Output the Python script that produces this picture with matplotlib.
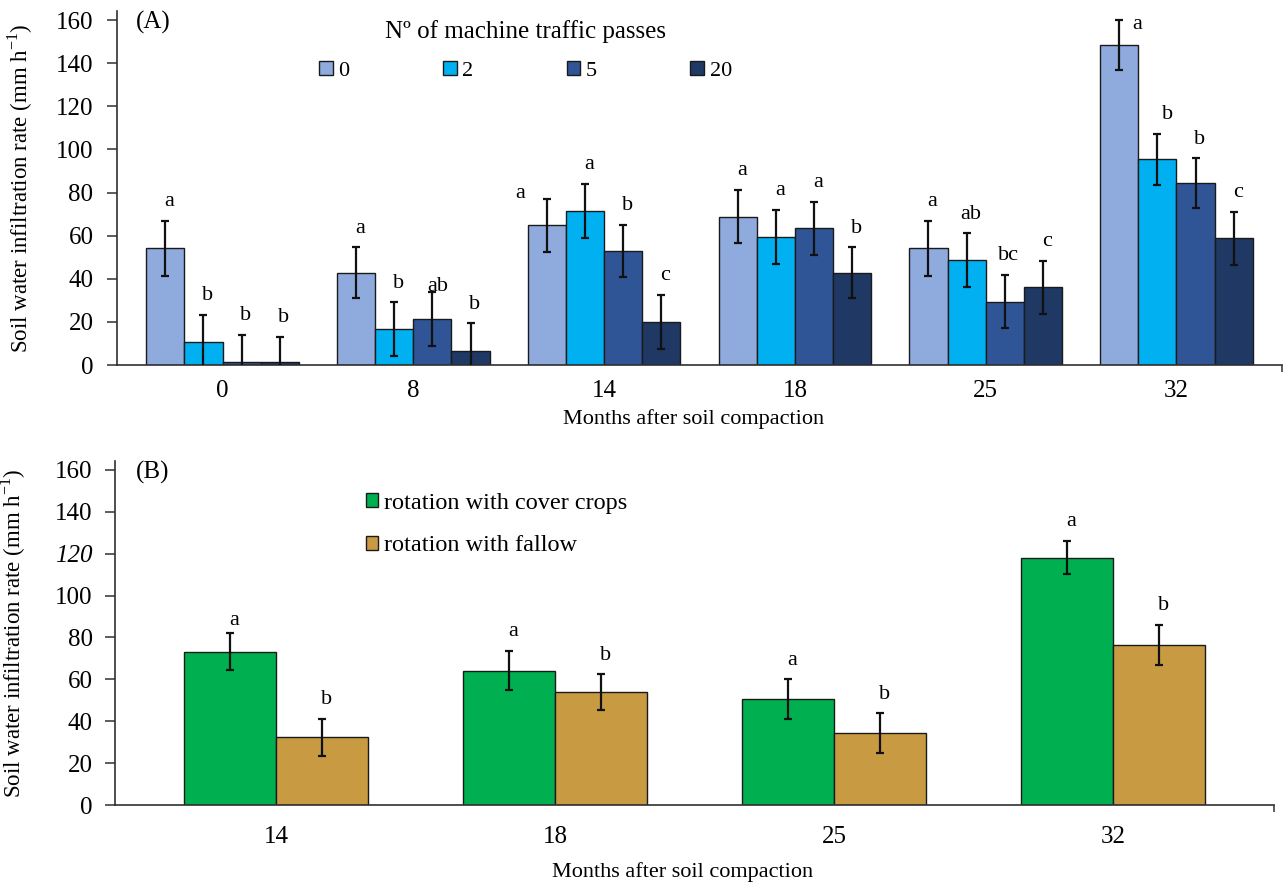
import numpy as np
import matplotlib
matplotlib.use("Agg")
from matplotlib import pyplot as plt

plt.rcParams['font.family'] = ['Liberation Serif', 'DejaVu Serif']
plt.rcParams['mathtext.fontset'] = 'custom'
plt.rcParams['mathtext.rm'] = 'Liberation Serif'

# (A) infiltration by number of machine traffic passes
months_a = ["0", "8", "14", "18", "25", "32"]
passes = ["0", "2", "5", "20"]
rate_0 = [54.1, 42.8, 64.8, 68.8, 54.1, 148.4]
rate_2 = [10.8, 16.7, 71.4, 59.4, 48.7, 95.4]
rate_5 = [1.5, 21.3, 52.9, 63.4, 29.4, 84.3]
rate_20 = [1.5, 6.6, 19.9, 42.8, 36.0, 58.8]
err_0 = [12.7, 11.8, 12.2, 12.4, 12.7, 11.7]
err_2 = [12.4, 12.4, 12.6, 12.4, 12.4, 11.7]
err_5 = [12.4, 12.7, 12.0, 12.3, 12.3, 11.5]
err_20 = [11.6, 12.7, 12.6, 11.8, 12.4, 12.3]
sig_0 = ["a", "a", "a", "a", "a", "a"]
sig_2 = ["b", "b", "a", "a", "ab", "b"]
sig_5 = ["b", "ab", "b", "a", "bc", "b"]
sig_20 = ["b", "b", "c", "b", "c", "c"]

# (B) infiltration by crop rotation
months_b = ["14", "18", "25", "32"]
rotations = ["rotation with cover crops", "rotation with fallow"]
rate_cover = [73.2, 64.2, 50.5, 118.1]
rate_fallow = [32.3, 53.8, 34.2, 76.4]
err_cover = [8.8, 9.4, 9.5, 8.0]
err_fallow = [8.9, 8.6, 9.6, 9.6]
sig_cover = ["a", "a", "a", "a"]
sig_fallow = ["b", "b", "b", "b"]

colors_a = ['#8FAADC', '#00B0F0', '#2F5597', '#203864']
colors_b = ['#00B050', '#C89B43']

# letter offsets (points) where the default spot would collide
letter_offset_a = {(2, 1): (4, -3), (0, 2): (-19, -3), (0, 5): (13, -10), (1, 5): (7, 7)}
letter_offset_b = {(0, 0): (3, 2)}

W, H = 1285, 886
fig = plt.figure(figsize=(W / 100, H / 100), dpi=100)
ax_a = fig.add_axes([117 / W, 1 - 365 / H, (1282 - 117) / W, (365 - 11.4) / H])
ax_b = fig.add_axes([115 / W, 1 - 805 / H, (1274 - 115) / W, (805 - 460.5) / H])

ylabel = r'Soil water infiltration rate (mm h$^{\mathregular{-1}}$)'


def style_axes(ax, n, pad_x, ylim, tickpad, xpad):
    ax.set_xlim(-pad_x, n - 1 + pad_x)
    ax.set_ylim(0, ylim)
    ax.set_yticks(np.arange(0, 161, 20))
    for side in ['top', 'right']:
        ax.spines[side].set_visible(False)
    for side in ['left', 'bottom']:
        ax.spines[side].set_color('#303030')
        ax.spines[side].set_linewidth(1.2)
    ax.tick_params(axis='y', length=7, width=1.1, color='#303030', labelsize=18, pad=tickpad)
    ax.tick_params(axis='x', which='major', length=0, labelsize=18, pad=xpad)
    ax.set_xticks([n - 1 + pad_x], minor=True)
    ax.tick_params(axis='x', which='minor', length=5, width=1.1, color='#303030')


def add_letters(ax, x, tops, letters, series_idx, offsets):
    for g, (xx, top, s) in enumerate(zip(x, tops, letters)):
        dx, dy = offsets.get((series_idx, g), (3, 7))
        ax.annotate(s, (xx, top), xytext=(dx, dy), textcoords='offset points',
                    ha='center', va='bottom', fontsize=16)


# panel A
rates_a = [rate_0, rate_2, rate_5, rate_20]
errs_a = [err_0, err_2, err_5, err_20]
sigs_a = [sig_0, sig_2, sig_5, sig_20]
x_a = np.arange(len(months_a))
w_a = 0.2
for i, (vals, errs, sigs) in enumerate(zip(rates_a, errs_a, sigs_a)):
    xs = x_a + (i - 1.5) * w_a
    ax_a.bar(xs, vals, w_a, color=colors_a[i], edgecolor='#1a1a1a', linewidth=1.0,
             label=passes[i], zorder=2)
    ax_a.errorbar(xs, vals, yerr=errs, fmt='none', ecolor='#111111', elinewidth=1.6,
                  capsize=3, capthick=1.6, zorder=3)
    add_letters(ax_a, xs, np.array(vals) + np.array(errs), sigs, i, letter_offset_a)
ax_a.set_xticks(x_a)
ax_a.set_xticklabels(months_a)
style_axes(ax_a, len(months_a), 0.553, 164, 10, 11)
ax_a.set_ylabel(ylabel, fontsize=16.5)
ax_a.yaxis.set_label_coords(-0.070, 0.5)
ax_a.set_xlabel('Months after soil compaction', fontsize=16)
ax_a.xaxis.set_label_coords(0.495, -0.125)
ax_a.text(0.016, 0.97, '(A)', transform=ax_a.transAxes, fontsize=18, va='center')

fig.text(525.5 / W, 1 - 32 / H, 'N\u00ba of machine traffic passes', fontsize=18,
         ha='center', va='center')
ax_a.legend(loc='center left', bbox_to_anchor=(319 / W, 1 - 71 / H),
            bbox_transform=fig.transFigure, ncol=4, frameon=False, fontsize=16,
            handlelength=0.62, handleheight=0.62, handletextpad=0.25,
            columnspacing=4.2, borderpad=0, borderaxespad=0)

# panel B
rates_b = [rate_cover, rate_fallow]
errs_b = [err_cover, err_fallow]
sigs_b = [sig_cover, sig_fallow]
x_b = np.arange(len(months_b))
w_b = 0.33
for i, (vals, errs, sigs) in enumerate(zip(rates_b, errs_b, sigs_b)):
    xs = x_b + (i - 0.5) * w_b
    ax_b.bar(xs, vals, w_b, color=colors_b[i], edgecolor='#1a1a1a', linewidth=1.0,
             label=rotations[i], zorder=2)
    ax_b.errorbar(xs, vals, yerr=errs, fmt='none', ecolor='#111111', elinewidth=1.6,
                  capsize=3, capthick=1.6, zorder=3)
    add_letters(ax_b, xs, np.array(vals) + np.array(errs), sigs, i, letter_offset_b)
ax_b.set_xticks(x_b)
ax_b.set_xticklabels(months_b)
style_axes(ax_b, len(months_b), 0.577, 164.5, 9, 15)
ax_b.set_ylabel(ylabel, fontsize=16.5)
ax_b.yaxis.set_label_coords(-0.075, 0.5)
ax_b.set_xlabel('Months after soil compaction', fontsize=16)
ax_b.xaxis.set_label_coords(0.49, -0.165)
ax_b.text(0.018, 0.965, '(B)', transform=ax_b.transAxes, fontsize=18, va='center')
ax_b.get_yticklabels()[6].set_fontstyle('italic')
ax_b.legend(loc='center left', bbox_to_anchor=(366 / W, 1 - 524.5 / H),
            bbox_transform=fig.transFigure, frameon=False, fontsize=17.5,
            handlelength=0.5, handleheight=0.5, handletextpad=0.25,
            labelspacing=0.9, borderpad=0, borderaxespad=0)

fig.savefig('out.png', dpi=100)
